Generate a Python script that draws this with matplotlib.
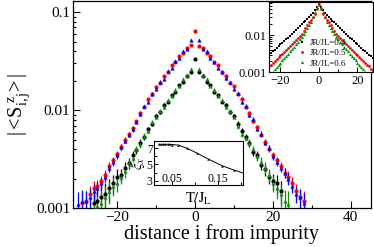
import numpy as np
import matplotlib
matplotlib.use("Agg")
import matplotlib.pyplot as plt
from matplotlib.ticker import NullFormatter, LogLocator

plt.rcParams['font.family'] = ['Liberation Serif', 'DejaVu Serif']
plt.rcParams['mathtext.fontset'] = 'stix'

# ---------------- main panel data ----------------
sites = np.arange(-30, 29)
nan = np.nan
red_vals = [nan, 0.00115, 0.0012, 0.0014, 0.0016, 0.0017, 0.0019, 0.0022, 0.0027, 0.0031, 0.0036, 0.0042,
            0.0050, 0.0057, 0.0066, 0.0077, 0.0095, 0.0109, 0.0129, 0.0147, 0.0174, 0.0192, 0.0224,
            0.0246, 0.0288, 0.0312, 0.0358, 0.0382, 0.0430, 0.0460,
            0.065,
            0.0455, 0.0432, 0.0380, 0.0360, 0.0308, 0.0290, 0.0243, 0.0226, 0.0189, 0.0176, 0.0145,
            0.0131, 0.0107, 0.0095, 0.0078, 0.0068, 0.0056, 0.0048, 0.0040, 0.0035, 0.0031, 0.0027,
            0.0023, 0.0021, 0.0018, 0.0015, 0.0013, 0.0012]
blue_vals = [0.0011, 0.0012, 0.0012, 0.0013, 0.0015, 0.0016, 0.0018, 0.0021, 0.0026, 0.0030, 0.0035, 0.0042,
             0.0049, 0.0056, 0.0064, 0.0076, 0.0091, 0.0110, 0.0122, 0.0148, 0.0165, 0.0196, 0.0210,
             0.0249, 0.0270, 0.0316, 0.0340, 0.0400, 0.0425, 0.0520,
             nan,
             0.0518, 0.0424, 0.0398, 0.0342, 0.0314, 0.0272, 0.0247, 0.0211, 0.0194, 0.0166, 0.0149,
             0.0121, 0.0111, 0.0090, 0.0082, 0.0065, 0.0058, 0.0047, 0.0041, 0.0034, 0.0030, 0.0026,
             0.0023, 0.0020, 0.0017, 0.0014, 0.0013, 0.00115]
black_vals = [nan, nan, nan, nan, 0.00115, 0.0012, 0.0013, 0.0014, 0.0016, 0.0018, 0.0021, 0.0022,
              0.0026, 0.0029, 0.0035, 0.0039, 0.0047, 0.0053, 0.0064, 0.0073, 0.0088, 0.0096, 0.0113,
              0.0122, 0.0143, 0.0155, 0.0182, 0.0195, 0.0225, 0.0245,
              0.033,
              0.0245, 0.0225, 0.0195, 0.0182, 0.0155, 0.0143, 0.0122, 0.0113, 0.0096, 0.0088, 0.0073,
              0.0062, 0.0053, 0.0046, 0.0038, 0.0035, 0.0028, 0.0025, 0.0021, 0.0019, 0.0018, 0.0015,
              nan, nan, nan, nan, nan, nan]
green_vals = [nan, nan, nan, nan, 0.00098, 0.00105, 0.00115, 0.0013, 0.0015, 0.0017, 0.0018, 0.0021,
              0.0024, 0.0029, 0.0033, 0.0040, 0.0045, 0.0055, 0.0062, 0.0076, 0.0085, 0.0099, 0.0109,
              0.0127, 0.0139, 0.0162, 0.0178, 0.0207, 0.0228, 0.0262,
              nan,
              0.0262, 0.0228, 0.0207, 0.0178, 0.0162, 0.0139, 0.0127, 0.0109, 0.0099, 0.0085, 0.0069,
              0.0057, 0.0052, 0.0047, 0.0040, 0.0034, 0.0030, 0.0026, 0.0022, 0.0018, 0.0016, 0.0014,
              0.0012, 0.00112, nan, nan, nan, nan]
# relative error bars versus distance |i|
rb_rel = [0.02, 0.02, 0.02, 0.02, 0.02, 0.02, 0.025, 0.025, 0.03, 0.03, 0.03, 0.035, 0.035, 0.04, 0.04,
          0.045, 0.05, 0.05, 0.06, 0.07, 0.08, 0.09, 0.10, 0.12, 0.14, 0.16, 0.18, 0.22, 0.26, 0.30, 0.35]
kg_rel = [0.02, 0.02, 0.025, 0.025, 0.03, 0.03, 0.035, 0.035, 0.04, 0.045, 0.05, 0.055, 0.06, 0.07,
          0.08, 0.09, 0.10, 0.12, 0.14, 0.16, 0.19, 0.22, 0.26, 0.30, 0.34, 0.38, 0.42, 0.45, 0.45, 0.45, 0.45]

main_xticks = [-20, 0, 20, 40]
main_xminor = [-30, -10, 10, 30]
main_yticks = [0.001, 0.01, 0.1]
main_yticklabels = ['0.001', '0.01', '0.1']

# ---------------- inset 1 data (JR/JL) ----------------
sites_in = np.arange(-26, 29)
ins_labels = ['JR/JL=0.4', 'JR/JL=0.5', 'JR/JL=0.6']
ins_black = [0.0030, 0.0033, 0.0037, 0.0041, 0.0046, 0.0051, 0.0056, 0.0062, 0.0069, 0.0078, 0.0085,
             0.0095, 0.0107, 0.0122, 0.0138, 0.0155, 0.0174, 0.0195, 0.0219, 0.0245, 0.0275, 0.0309,
             0.0339, 0.038, 0.0457, 0.055,
             0.066,
             0.055, 0.0457, 0.038, 0.0339, 0.0309, 0.0275, 0.0245, 0.0219, 0.0195, 0.0174, 0.0155,
             0.0138, 0.0122, 0.0107, 0.0095, 0.0085, 0.0078, 0.0069, 0.0062, 0.0056, 0.0051, 0.0046,
             0.0041, 0.0037, 0.0033, 0.0030, 0.00275, 0.0025]
ins_red = [0.00145, 0.0016, 0.0018, 0.00202, 0.00226, 0.00254, 0.00285, 0.0032, 0.0036, 0.0041, 0.0046,
           0.0051, 0.0058, 0.0065, 0.0072, 0.0081, 0.0092, 0.0110, 0.0130, 0.0155, 0.0184, 0.0219,
           0.026, 0.0309, 0.0363, 0.049,
           0.063,
           0.049, 0.0363, 0.0309, 0.026, 0.0219, 0.0184, 0.0155, 0.0130, 0.0110, 0.0092, 0.0081,
           0.0072, 0.0065, 0.0058, 0.0051, 0.0046, 0.0041, 0.0036, 0.0032, 0.00285, 0.00254, 0.00226,
           0.00202, 0.0018, 0.0016, 0.00145, 0.00126, 0.0011]
ins_green = [0.0008, 0.00092, 0.00106, 0.00122, 0.0014, 0.0016, 0.00184, 0.0021, 0.0024, 0.0028, 0.0032,
             0.0037, 0.0042, 0.0049, 0.0057, 0.0066, 0.0078, 0.0091, 0.0107, 0.0129, 0.0155, 0.0186,
             0.0224, 0.0295, 0.0407, 0.055,
             0.076,
             0.055, 0.0407, 0.0295, 0.0224, 0.0186, 0.0155, 0.0129, 0.0107, 0.0091, 0.0078, 0.0066,
             0.0057, 0.0049, 0.0042, 0.0037, 0.0032, 0.0028, 0.0024, 0.0021, 0.00184, 0.0016, 0.0014,
             0.00122, 0.00106, 0.00092, 0.0008, 0.0007, 0.0006]

# ---------------- inset 2 data (xi vs T) ----------------
T_vals = [0.02, 0.025, 0.03, 0.035, 0.04, 0.045, 0.05, 0.063, 0.083, 0.105, 0.128, 0.158, 0.184, 0.22]
xi_vals = [7.45, 7.45, 7.45, 7.45, 7.45, 7.44, 7.42, 7.35, 6.95, 6.35, 5.68, 4.87, 4.33, 3.7]

RED = '#ff0000'
BLUE = '#0000ff'
BLACK = '#000000'
GREEN = '#0a8f0a'

fig = plt.figure(figsize=(3.74, 2.47), dpi=100)
ax = fig.add_axes([0.195, 0.156, 0.797, 0.840])

dist = np.abs(sites)
series = [(black_vals, BLACK, 'o', kg_rel), (green_vals, GREEN, '^', kg_rel),
          (red_vals, RED, 'o', rb_rel), (blue_vals, BLUE, '^', rb_rel)]
for vals, col, mk, rel in series:
    v = np.array(vals, dtype=float)
    err = np.array(rel)[dist] * v
    ax.errorbar(sites, v, yerr=err, fmt=mk, color=col, ms=3.0, mew=0,
                elinewidth=0.9, capsize=2.2, capthick=0.9, zorder=3)

ax.set_yscale('log')
ax.set_xlim(-31.3, 45.2)
ax.set_ylim(0.001, 0.13)
ax.set_xticks(main_xticks)
ax.set_xticks(main_xminor, minor=True)
ax.set_yticks(main_yticks)
ax.set_yticklabels(main_yticklabels)
ax.yaxis.set_minor_locator(LogLocator(base=10, subs=np.arange(2, 10)))
ax.yaxis.set_minor_formatter(NullFormatter())
ax.tick_params(which='both', direction='in', labelsize=11, pad=2)
ax.tick_params(which='major', length=5, width=0.8)
ax.tick_params(which='minor', length=2.5, width=0.8)
for s in ax.spines.values():
    s.set_linewidth(0.9)
ax.set_xlabel('distance i from impurity', fontsize=14.5, labelpad=0)
ax.set_ylabel(r'$\mathregular{|\,\!<\!S_{i,j}^{\ z}\!>\!\,|}$', fontsize=14.5, labelpad=3)

# ---------------- inset 1 ----------------
ax1 = fig.add_axes([0.719, 0.7065, 0.278, 0.285])
ax1.plot(sites_in, ins_black, 's', color=BLACK, ms=1.8, mew=0, label=ins_labels[0])
ax1.plot(sites_in, ins_red, 'o', color=RED, ms=2.0, mew=0, label=ins_labels[1])
ax1.plot(sites_in, ins_green, '^', color=GREEN, ms=2.3, mew=0, label=ins_labels[2])
ax1.set_yscale('log')
ax1.set_xlim(-26, 28)
ax1.set_ylim(0.001, 0.076)
ax1.set_xticks([-20, 0, 20])
ax1.set_xticks([-10, 10], minor=True)
ax1.set_yticks([0.001, 0.01])
ax1.set_yticklabels(['0.001', '0.01'])
ax1.yaxis.set_minor_locator(LogLocator(base=10, subs=np.arange(2, 10)))
ax1.yaxis.set_minor_formatter(NullFormatter())
ax1.tick_params(which='both', direction='in', labelsize=9, pad=1.5)
ax1.tick_params(which='major', length=3.5, width=0.7)
ax1.tick_params(which='minor', length=2, width=0.7)
for s in ax1.spines.values():
    s.set_linewidth(0.8)
ax1.legend(loc='center left', bbox_to_anchor=(0.24, 0.275), frameon=False, fontsize=6.3,
           numpoints=1, handlelength=0.7, handletextpad=0.5, labelspacing=0.25,
           borderpad=0.1, markerscale=1.0)

# ---------------- inset 2 ----------------
ax2 = fig.add_axes([0.412, 0.251, 0.238, 0.178])
ax2.plot(T_vals, xi_vals, '-', color=BLACK, lw=0.7, marker='^', ms=1.8, mew=0)
ax2.set_xlim(0.01, 0.205)
ax2.set_ylim(2.5, 7.85)
ax2.set_xticks([0.05, 0.15])
ax2.set_xticklabels(['0.05', '0.15'])
ax2.set_xticks([0.1, 0.2], minor=True)
ax2.set_yticks([3, 5, 7])
ax2.set_yticks([4, 6], minor=True)
ax2.tick_params(which='both', direction='in', labelsize=8.5)
ax2.tick_params(axis='x', pad=-8.5)
ax2.tick_params(axis='y', pad=1)
ax2.tick_params(which='major', length=3, width=0.7)
ax2.tick_params(which='minor', length=2, width=0.7)
for s in ax2.spines.values():
    s.set_linewidth(0.8)
ax2.set_xlabel(r'$\mathrm{T/J_L}$', fontsize=10.5, labelpad=1)
ax2.set_ylabel(r'$\xi_x$', fontsize=11, labelpad=0)

fig.savefig('out.png', dpi=100)
